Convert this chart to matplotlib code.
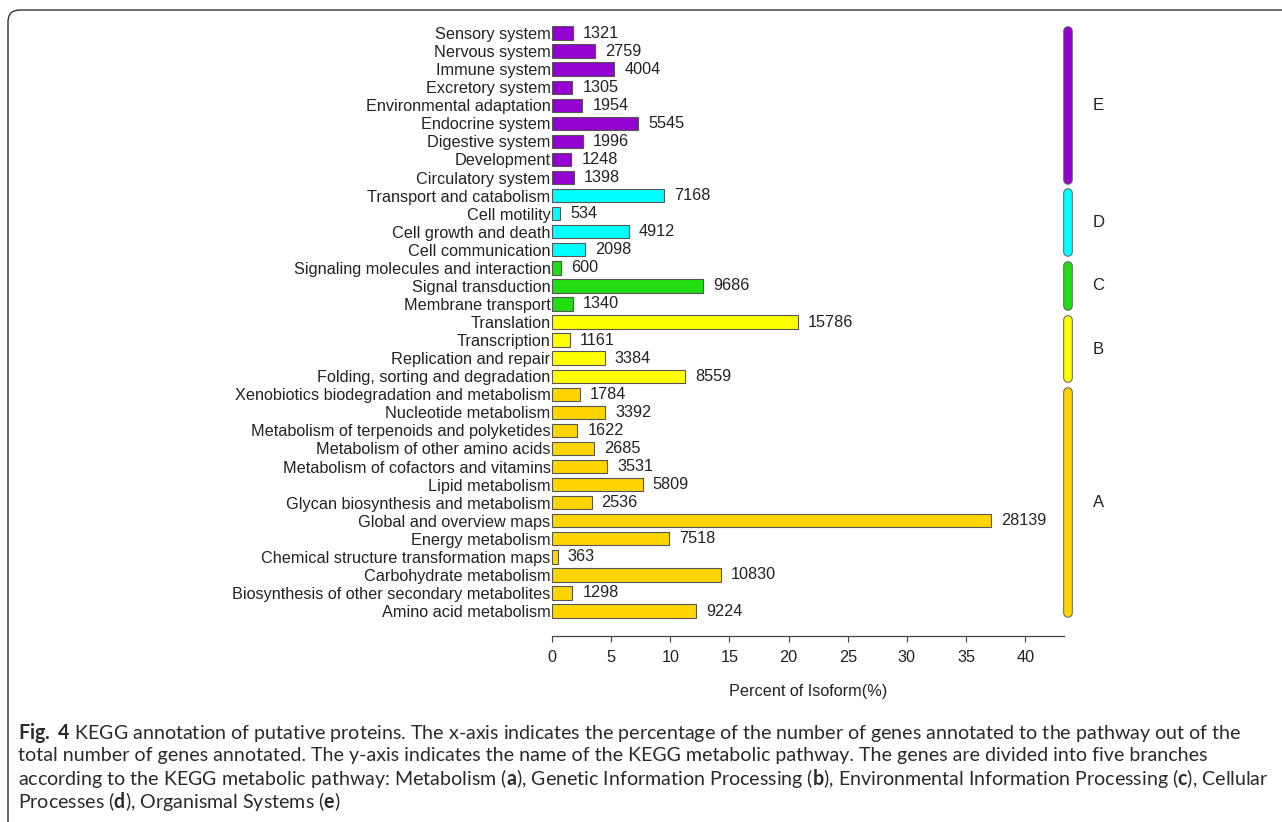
import matplotlib.pyplot as plt
import matplotlib.patheffects as pe
from matplotlib.patches import FancyBboxPatch

# KEGG pathways, listed top to bottom as drawn
pathways = [
    "Sensory system", "Nervous system", "Immune system", "Excretory system",
    "Environmental adaptation", "Endocrine system", "Digestive system",
    "Development", "Circulatory system",
    "Transport and catabolism", "Cell motility", "Cell growth and death",
    "Cell communication",
    "Signaling molecules and interaction", "Signal transduction",
    "Membrane transport",
    "Translation", "Transcription", "Replication and repair",
    "Folding, sorting and degradation",
    "Xenobiotics biodegradation and metabolism", "Nucleotide metabolism",
    "Metabolism of terpenoids and polyketides",
    "Metabolism of other amino acids", "Metabolism of cofactors and vitamins",
    "Lipid metabolism", "Glycan biosynthesis and metabolism",
    "Global and overview maps", "Energy metabolism",
    "Chemical structure transformation maps", "Carbohydrate metabolism",
    "Biosynthesis of other secondary metabolites", "Amino acid metabolism",
]
counts = [
    1321, 2759, 4004, 1305, 1954, 5545, 1996, 1248, 1398,
    7168, 534, 4912, 2098,
    600, 9686, 1340,
    15786, 1161, 3384, 8559,
    1784, 3392, 1622, 2685, 3531, 5809, 2536, 28139, 7518, 363, 10830, 1298, 9224,
]
branch = ["E"] * 9 + ["D"] * 4 + ["C"] * 3 + ["B"] * 4 + ["A"] * 13
branch_order = ["E", "D", "C", "B", "A"]
branch_colors = {"A": "#FFD500", "B": "#FFFF00", "C": "#22DD11",
                 "D": "#00FFFF", "E": "#9400D0"}

total_genes = 75870

percent = [c / total_genes * 100 for c in counts]
n = len(pathways)
ypos = [n - 1 - i for i in range(n)]

fig = plt.figure(figsize=(12.82, 8.22), dpi=100)
ax = fig.add_axes([552 / 1282, 186 / 822, 512 / 1282, 613.8 / 822])

label_font = "Liberation Sans"
fs = 11.7
ax.barh(ypos, percent, height=0.74, color=[branch_colors[b] for b in branch],
        edgecolor="#555555", linewidth=0.8, zorder=2)
for y, p, c in zip(ypos, percent, counts):
    ax.text(p + 0.85, y, str(c), va="center", ha="left", fontsize=fs,
            family=label_font, color="#222222")

ax.set_xlim(0, 43.28)
ax.set_ylim(-1.384, n - 1 + 0.6)
ax.set_yticks(ypos)
ax.set_yticklabels(pathways, fontsize=fs, family=label_font, color="#222222")
ax.tick_params(axis="y", length=0, pad=1)
ax.set_xticks(range(0, 41, 5))
ax.tick_params(axis="x", length=4, width=0.8, color="#444444", pad=6,
               labelsize=fs, labelcolor="#222222")
for lab in ax.get_xticklabels():
    lab.set_family(label_font)
ax.set_xlabel("Percent of Isoform(%)", fontsize=fs, family=label_font,
              color="#222222", labelpad=14)
for side in ["left", "right", "top"]:
    ax.spines[side].set_visible(False)
ax.spines["bottom"].set_color("#444444")
ax.spines["bottom"].set_linewidth(0.9)

# rounded branch markers on the right
for b in branch_order:
    rows = [y for y, g in zip(ypos, branch) if g == b]
    top, bottom = max(rows), min(rows)
    ax.plot([43.6, 43.6], [bottom - 0.12, top + 0.12], lw=5.5,
            color=branch_colors[b], solid_capstyle="round", clip_on=False,
            path_effects=[pe.Stroke(linewidth=7, foreground="#666666"),
                          pe.Normal()])
    ax.text(46.2, (top + bottom) / 2, b, ha="center", va="center",
            fontsize=12, family=label_font, color="#222222", clip_on=False)

# frame around the figure panel
frame = FancyBboxPatch((0.08, -1.0), 14.0, 9.12, boxstyle="round,pad=0,rounding_size=0.12",
                       transform=fig.dpi_scale_trans, facecolor="none",
                       edgecolor="#333333", linewidth=1.0)
fig.patches.append(frame)

plt.rcParams["mathtext.fontset"] = "custom"
plt.rcParams["mathtext.rm"] = "Lato"
plt.rcParams["mathtext.bf"] = "Lato:bold"

caption = [
    r"$\mathbf{Fig.}$ $\mathbf{4}$ KEGG annotation of putative proteins. The x-axis indicates the percentage of the number of genes annotated to the pathway out of the",
    r"total number of genes annotated. The y-axis indicates the name of the KEGG metabolic pathway. The genes are divided into five branches",
    r"according to the KEGG metabolic pathway: Metabolism ($\mathbf{a}$), Genetic Information Processing ($\mathbf{b}$), Environmental Information Processing ($\mathbf{c}$), Cellular",
    r"Processes ($\mathbf{d}$), Organismal Systems ($\mathbf{e}$)",
]
for i, line in enumerate(caption):
    fig.text(18 / 1282, 1 - (733 + 22.8 * i) / 822, line, ha="left", va="center",
             fontsize=14.1, family="Lato", color="#2a2a2a")

fig.savefig("out.png", dpi=100)
